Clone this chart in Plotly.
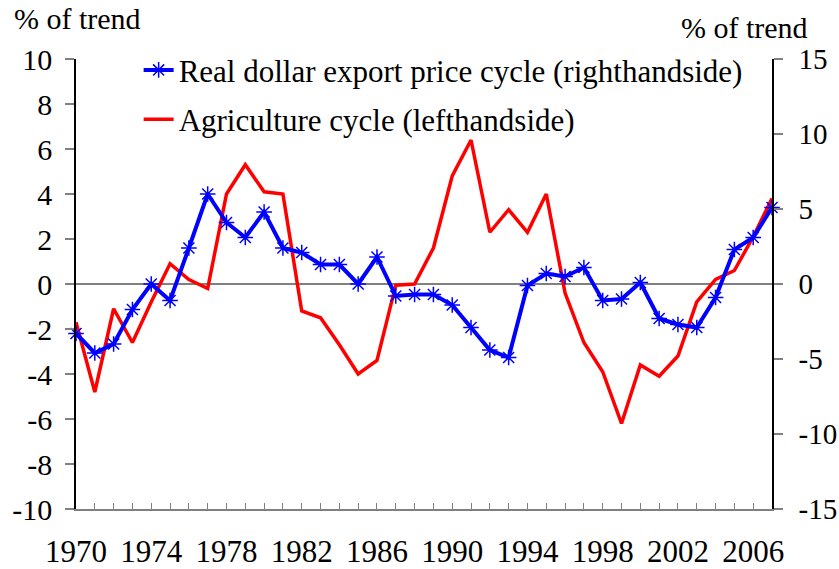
import plotly.graph_objects as go

years = list(range(1970, 2008))

# Real dollar export price cycle (right-hand axis, % of trend)
export_price = [-3.3, -4.6, -4.0, -1.7, 0.0, -1.1, 2.4, 6.0, 4.1, 3.1,
                4.8, 2.4, 2.1, 1.3, 1.3, 0.0, 1.8, -0.8, -0.7, -0.7,
                -1.4, -2.9, -4.4, -4.9, -0.1, 0.7, 0.5, 1.1, -1.1, -1.0,
                0.1, -2.3, -2.7, -2.9, -0.9, 2.3, 3.1, 5.1]

# Agriculture cycle (left-hand axis, % of trend)
agriculture = [-1.7, -4.8, -1.1, -2.6, -0.8, 0.9, 0.2, -0.2, 4.0, 5.3,
               4.1, 4.0, -1.2, -1.5, -2.7, -4.0, -3.4, -0.05, 0.0, 1.6,
               4.8, 6.4, 2.3, 3.3, 2.3, 4.0, -0.4, -2.6, -3.9, -6.2,
               -3.6, -4.1, -3.2, -0.8, 0.2, 0.6, 2.1, 3.8]

x_tick_vals = list(range(1970, 2007, 4))
x_tick_text = [str(v) for v in x_tick_vals]
left_tick_vals = list(range(-10, 11, 2))
left_tick_text = [str(v) for v in left_tick_vals]
right_tick_vals = list(range(-15, 16, 5))
right_tick_text = [str(v) for v in right_tick_vals]

FONT = "Times New Roman, Liberation Serif, serif"

fig = go.Figure()
fig.add_trace(go.Scatter(
    x=years, y=export_price, yaxis="y2",
    name="Real dollar export price cycle (righthandside)",
    mode="lines+markers",
    line=dict(color="#0000FF", width=4),
    marker=dict(symbol="asterisk-open", size=13, color="#0000FF",
                line=dict(color="#0000FF", width=1.5)),
    cliponaxis=False, legendgroup="a"))
fig.add_trace(go.Scatter(
    x=years, y=agriculture, yaxis="y",
    name="Agriculture cycle (lefthandside)",
    mode="lines",
    line=dict(color="#FF0000", width=3.5),
    cliponaxis=False, legendgroup="b"))

fig.update_layout(
    width=839, height=569,
    margin=dict(l=76, r=67, t=59, b=60, autoexpand=False),
    paper_bgcolor="white", plot_bgcolor="white",
    font=dict(family=FONT, size=30, color="black"),
    showlegend=True,
    legend=dict(x=0.09, y=1.035, xanchor="left", yanchor="top",
                bgcolor="rgba(0,0,0,0)", font=dict(family=FONT, size=31),
                traceorder="grouped", tracegroupgap=6),
    xaxis=dict(range=[1970, 2007], tickmode="array", tickvals=x_tick_vals,
               ticktext=x_tick_text, ticks="inside", ticklen=6,
               tickcolor="#808080", showline=True, linecolor="#808080",
               linewidth=2, showgrid=False, zeroline=False, automargin=False,
               tickfont=dict(family=FONT, size=31), ticklabelstandoff=14,
               minor=dict(ticks="inside", dtick=1, ticklen=6,
                          tickcolor="#808080", showgrid=False)),
    yaxis=dict(range=[-10, 10], tickmode="array", tickvals=left_tick_vals,
               ticktext=left_tick_text, ticks="outside", ticklen=9,
               tickcolor="#808080", tickwidth=2, showline=True,
               linecolor="black", linewidth=1.5, showgrid=False,
               zeroline=True, zerolinecolor="#808080", zerolinewidth=2,
               automargin=False,
               tickfont=dict(family=FONT, size=30), ticklabelstandoff=7),
    yaxis2=dict(range=[-15, 15], overlaying="y", side="right",
                tickmode="array", tickvals=right_tick_vals,
                ticktext=right_tick_text, ticks="outside", ticklen=9,
                tickcolor="#808080", tickwidth=2, showline=True,
                linecolor="black", linewidth=1.5, showgrid=False,
                zeroline=False, automargin=False,
                tickfont=dict(family=FONT, size=29),
                ticklabelstandoff=10),
    annotations=[
        dict(text="% of trend", xref="paper", yref="paper",
             x=-0.092, y=1.09, xanchor="left", yanchor="middle",
             showarrow=False, font=dict(family=FONT, size=30)),
        dict(text="% of trend", xref="paper", yref="paper",
             x=0.866, y=1.07, xanchor="left", yanchor="middle",
             showarrow=False, font=dict(family=FONT, size=30)),
    ],
)

fig.write_html("out.html", config={"displayModeBar": False},
               post_script="document.body.style.margin='0px';")
